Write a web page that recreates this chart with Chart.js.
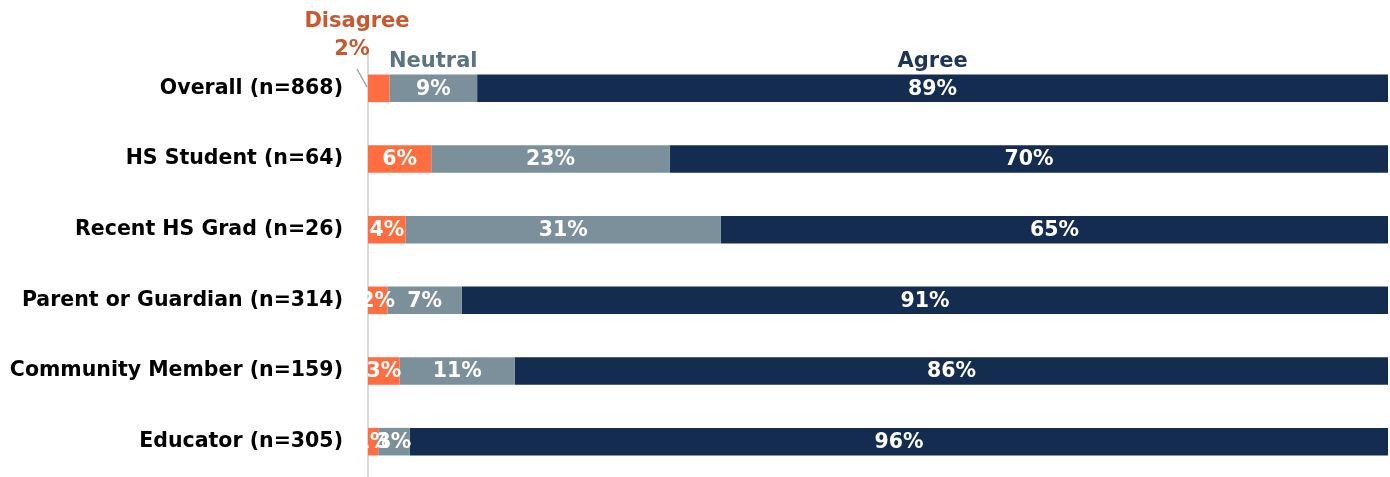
<!DOCTYPE html>
<html>
<head>
<meta charset="utf-8">
<script src="https://cdn.jsdelivr.net/npm/chart.js@4"></script>
<style>
  body { margin: 0; background: #fff; overflow: hidden; }
  canvas { display: block; }
</style>
</head>
<body>
<canvas id="agreeChart" width="1390" height="477"></canvas>
<script>
// Agreement by respondent group, 100% stacked bars

const groups = ['Overall (n=868)', 'HS Student (n=64)', 'Recent HS Grad (n=26)',
    'Parent or Guardian (n=314)', 'Community Member (n=159)', 'Educator (n=305)'];
const disagree = [2.1, 6.2, 3.7, 1.9, 3.1, 1.0];
const neutral = [8.6, 23.4, 30.9, 7.3, 11.3, 3.1];
const agree = [89.3, 70.4, 65.4, 90.8, 85.6, 95.9];

const FONT = "'DejaVu Sans', sans-serif";

// white % labels inside the bars, plus the legend-style headings over the first bar
const barLabels = {
    id: 'barLabels',
    afterDatasetsDraw(chart) {
        const ctx = chart.ctx;
        ctx.save();
        ctx.textAlign = 'center';
        ctx.textBaseline = 'middle';
        ctx.font = 'bold 20.5px ' + FONT;
        ctx.fillStyle = '#ffffff';
        chart.data.datasets.forEach((ds, di) => {
            chart.getDatasetMeta(di).data.forEach((bar, i) => {
                if (di === 0 && i === 0) return; // shown above the bar instead
                const cx = (bar.x + bar.base) / 2;
                ctx.fillText(Math.round(ds.data[i]) + '%', cx, bar.y + 1);
            });
        });

        // headings over the Overall bar
        const nb = chart.getDatasetMeta(1).data[0];
        const ab = chart.getDatasetMeta(2).data[0];
        const top = nb.y - nb.height / 2;
        ctx.textBaseline = 'alphabetic';
        ctx.font = 'bold 21px ' + FONT;
        ctx.fillStyle = '#5b7382';
        ctx.fillText('Neutral', (nb.x + nb.base) / 2, top - 8);
        ctx.fillStyle = '#1f3556';
        ctx.fillText('Agree', (ab.x + ab.base) / 2, top - 8);

        const db = chart.getDatasetMeta(0).data[0];
        ctx.fillStyle = '#c9572f';
        ctx.fillText('Disagree', db.base - 11, 27);
        ctx.fillText(Math.round(disagree[0]) + '%', db.base - 16, 55);
        ctx.strokeStyle = '#a6a6a6';
        ctx.lineWidth = 1.5;
        ctx.beginPath();
        ctx.moveTo(db.base - 11, 69);
        ctx.lineTo(db.base - 1, 87);
        ctx.stroke();
        ctx.restore();
    }
};

new Chart(document.getElementById('agreeChart'), {
    type: 'bar',
    data: {
        labels: groups,
        datasets: [
            { label: 'Disagree', data: disagree, backgroundColor: '#ff6e40' },
            { label: 'Neutral', data: neutral, backgroundColor: '#7b909b' },
            { label: 'Agree', data: agree, backgroundColor: '#142c4f' }
        ]
    },
    options: {
        indexAxis: 'y',
        responsive: false,
        animation: false,
        layout: { padding: { top: 53, bottom: 0, left: 10, right: 2 } },
        datasets: { bar: { barPercentage: 0.39, categoryPercentage: 1.0, borderWidth: 0 } },
        scales: {
            x: { stacked: true, min: 0, max: 100, display: false },
            y: {
                stacked: true,
                grid: { display: false, drawTicks: false },
                border: { color: '#d9d9d9', width: 2 },
                ticks: {
                    color: '#000000',
                    padding: 25,
                    font: { family: FONT, size: 20.5, weight: 'bold' }
                },
                afterFit(scale) {
                    // tick padding otherwise eats space at the bottom
                    scale.paddingTop = 0;
                    scale.paddingBottom = 0;
                    scale.width = 358;
                }
            }
        },
        plugins: {
            legend: { display: false },
            tooltip: { enabled: false }
        }
    },
    plugins: [barLabels]
});
</script>
</body>
</html>
